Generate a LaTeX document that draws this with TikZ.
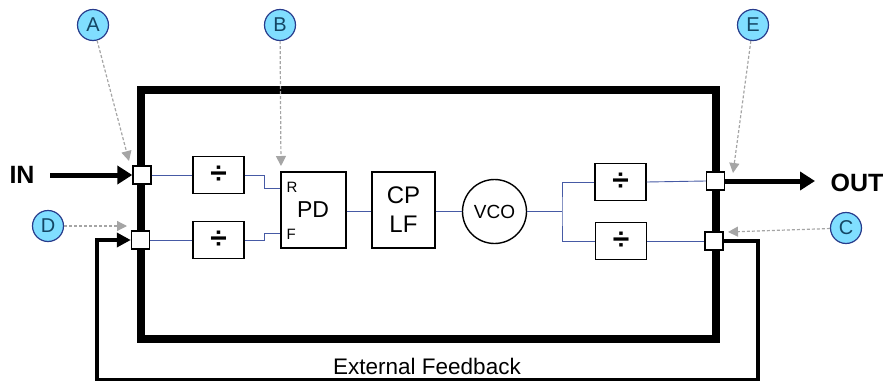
\documentclass[tikz,border=0pt]{standalone}
\usepackage{fontspec}
\setmainfont{Liberation Sans}
\usetikzlibrary{arrows.meta}
\definecolor{wireblue}{RGB}{70,90,165}
\definecolor{badgefill}{RGB}{128,222,255}
\definecolor{badgeline}{RGB}{40,60,140}
\definecolor{badgetext}{RGB}{20,70,100}
\definecolor{hintgray}{RGB}{165,165,165}
\tikzset{
  chipedge/.style={line width=8pt, line join=miter},
  port/.style={draw, fill=white, line width=1.4pt, minimum width=18pt, minimum height=18pt, inner sep=0pt},
  divbox/.style={draw, fill=white, line width=1.4pt, minimum width=51pt, minimum height=37pt, inner sep=0pt, font=\fontsize{30}{30}\selectfont\bfseries},
  blockbox/.style={draw, fill=white, line width=1.4pt, minimum width=64pt, minimum height=76pt, inner sep=0pt},
  wire/.style={draw=wireblue, line width=0.9pt},
  badge/.style={circle, draw=badgeline, line width=1.2pt, fill=badgefill, minimum size=31pt, inner sep=0pt, text=badgetext, font=\fontsize{20}{20}\selectfont},
  hint/.style={draw=hintgray, line width=1.2pt, dash pattern=on 3pt off 2pt, -{Triangle[length=10pt,width=10pt]}},
  bigarrow/.style={line width=5pt, -{Triangle[length=15pt,width=18pt]}},
  iolabel/.style={font=\fontsize{25}{25}\selectfont\bfseries},
}
\begin{document}
\begin{tikzpicture}[x=1pt, y=-1pt]
\useasboundingbox (0,0) rectangle (887,383);
% chip outline
\draw[chipedge] (141,90) rectangle (716,339);
% ports
\node[port] (pin) at (142,175) {};
\node[port] (pfb) at (140.5,240) {};
\node[port] (pout) at (715.5,181) {};
\node[port] (pfbo) at (714,241) {};
% dividers
\node[divbox] (d1) at (218.5,175) {÷};
\node[divbox] (d2) at (218.5,240) {÷};
\node[divbox] (d3) at (620.5,182) {÷};
\node[divbox] (d4) at (621,241) {÷};
% PD, CP/LF, VCO
\node[blockbox, minimum width=65pt] (pd) at (313.5,210) {};
\node[font=\fontsize{23}{23}\selectfont] (pdt) at (313,210) {PD};
\node[font=\fontsize{15}{15}\selectfont, anchor=west] (rlab) at (283,187) {R};
\node[font=\fontsize{15}{15}\selectfont, anchor=west] (flab) at (283,234) {F};
\node[blockbox, minimum width=63pt, align=center, font=\fontsize{24}{29}\selectfont] (cp) at (403.5,210) {CP\\LF};
\node[circle, draw, line width=1.4pt, fill=white, minimum size=64pt, inner sep=0pt, font=\fontsize{19}{19}\selectfont] (vco) at (494.5,211.5) {VCO};
% wires
\coordinate (rin) at (pd.west |- 0,188);
\coordinate (fin) at (pd.west |- 0,233);
\coordinate (br) at (562,211);
\draw[wire] (pin.east) -- (d1.west);
\draw[wire] (pfb.east) -- (d2.west);
\draw[wire] (d1.east) -- (264,175) |- (rin);
\draw[wire] (d2.east) -- (264,240) |- (fin);
\draw[wire] (pd.east |- 0,211) -- (cp.west |- 0,211);
\draw[wire] (cp.east |- 0,211) -- (vco.west |- 0,211);
\draw[wire] (vco.east |- 0,211) -- (br);
\draw[wire] (d3.west) -| (br) |- (d4.west);
\draw[wire] (d3.east) -- (pout.west);
\draw[wire] (d4.east) -- (pfbo.west);
% IN / OUT
\node[iolabel] (inlab) at (22,175) {IN};
\node[iolabel] (outlab) at (857,183) {OUT};
\coordinate (instart) at (50,175);
\coordinate (outend) at (815,181);
\draw[bigarrow] (instart) -- (pin.west);
\draw[bigarrow] (pout.east) -- (outend);
% external feedback
\coordinate (fb1) at (758,379.5);
\coordinate (fb2) at (97,379.5);
\draw[line width=3.5pt, line join=miter, -{Triangle[length=14pt,width=14pt]}] (pfbo.east) -| (fb1) -- (fb2) |- (pfb.west);
\node[font=\fontsize{22.5}{22.5}\selectfont] (fblab) at (427,366) {External Feedback};
% badges
\node[badge] (ba) at (93,25) {A};
\node[badge] (bb) at (280,25) {B};
\node[badge] (be) at (753,25) {E};
\node[badge] (bc) at (846,228) {C};
\node[badge] (bd) at (48,226) {D};
\coordinate (ta) at (129,161);
\coordinate (tb) at (281,166);
\coordinate (te) at (733,173);
\coordinate (tc) at (728,232);
\coordinate (td) at (127,226);
\draw[hint] (ba) -- (ta);
\draw[hint] (bb) -- (tb);
\draw[hint] (be) -- (te);
\draw[hint] (bc) -- (tc);
\draw[hint] (bd) -- (td);
\end{tikzpicture}
\end{document}
